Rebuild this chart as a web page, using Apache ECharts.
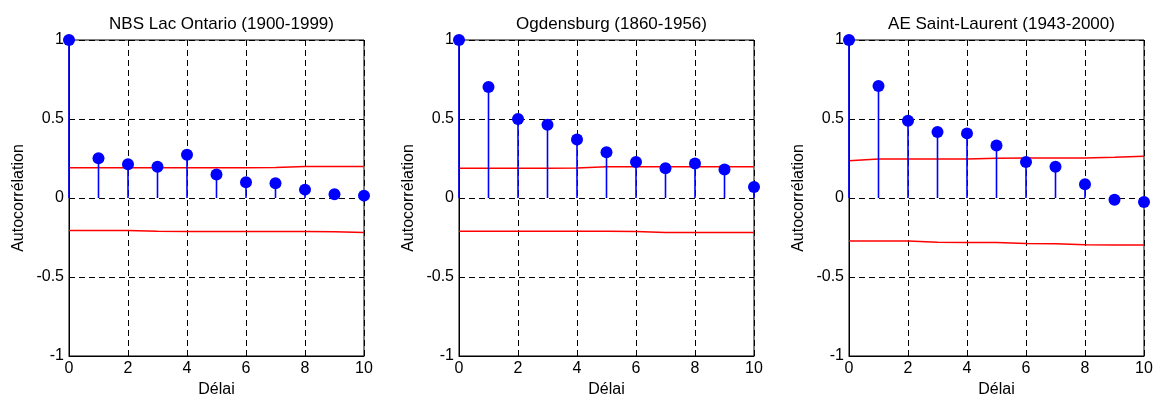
<!DOCTYPE html>
<html>
<head>
<meta charset="utf-8">
<script src="https://cdn.jsdelivr.net/npm/echarts@6/dist/echarts.min.js"></script>
<style>
  html, body { margin: 0; padding: 0; background: #fff; }
  #chart { width: 1156px; height: 396px; }
</style>
</head>
<body>
<div id="chart"></div>
<script>
// Autocorrelation functions (lags 0..10) with their confidence bounds
const lags = [0, 1, 2, 3, 4, 5, 6, 7, 8, 9, 10];

const titles = [
  'NBS Lac Ontario (1900-1999)',
  'Ogdensburg (1860-1956)',
  'AE Saint-Laurent (1943-2000)'
];

const acfOntario    = [1, 0.251, 0.213, 0.198, 0.274, 0.149, 0.100, 0.094, 0.053, 0.023, 0.015];
const acfOgdensburg = [1, 0.702, 0.500, 0.464, 0.370, 0.289, 0.228, 0.189, 0.219, 0.181, 0.070];
const acfStLaurent  = [1, 0.709, 0.489, 0.417, 0.409, 0.332, 0.228, 0.198, 0.087, -0.011, -0.026];

const upperOntario    = [0.191, 0.191, 0.191, 0.191, 0.191, 0.191, 0.191, 0.193, 0.199, 0.199, 0.199];
const lowerOntario    = [-0.206, -0.206, -0.206, -0.211, -0.212, -0.212, -0.212, -0.212, -0.212, -0.214, -0.219];
const upperOgdensburg = [0.189, 0.189, 0.189, 0.189, 0.190, 0.197, 0.198, 0.198, 0.198, 0.198, 0.198];
const lowerOgdensburg = [-0.211, -0.211, -0.211, -0.211, -0.211, -0.211, -0.212, -0.219, -0.219, -0.219, -0.219];
const upperStLaurent  = [0.236, 0.247, 0.247, 0.247, 0.247, 0.252, 0.253, 0.253, 0.253, 0.258, 0.264];
const lowerStLaurent  = [-0.272, -0.272, -0.272, -0.280, -0.281, -0.281, -0.288, -0.289, -0.296, -0.298, -0.298];

const xTicks = [0, 2, 4, 6, 8, 10];
const yTicks = [-1, -0.5, 0, 0.5, 1];
const xName = 'Délai';
const yName = 'Autocorrélation';

const panels = [
  { acf: acfOntario,    upper: upperOntario,    lower: lowerOntario },
  { acf: acfOgdensburg, upper: upperOgdensburg, lower: lowerOgdensburg },
  { acf: acfStLaurent,  upper: upperStLaurent,  lower: lowerStLaurent }
];

const FONT = 'Liberation Sans, Arial, sans-serif';
const gridLefts = [69, 459, 849];
const gridWidth = 295;
const gridTop = 40;
const gridHeight = 316;

const dashed = { color: '#000', width: 1, type: [6, 4] };

const grids = [], xAxes = [], yAxes = [], series = [], titleOpts = [];

panels.forEach((p, i) => {
  grids.push({
    left: gridLefts[i], top: gridTop, width: gridWidth, height: gridHeight,
    outerBoundsMode: 'none', containLabel: false,
    show: true, borderColor: '#000', borderWidth: 1, backgroundColor: 'transparent'
  });
  titleOpts.push({
    text: titles[i],
    left: gridLefts[i] + gridWidth / 2,
    top: 11,
    textAlign: 'center',
    textStyle: { fontFamily: FONT, fontSize: 17, fontWeight: 'normal', color: '#000' }
  });
  xAxes.push({
    gridIndex: i, type: 'value',
    min: xTicks[0], max: xTicks[xTicks.length - 1], interval: 2,
    name: xName, nameLocation: 'middle', nameGap: 25,
    nameTextStyle: { fontFamily: FONT, fontSize: 16, color: '#000' },
    axisLine: { show: true, onZero: false, lineStyle: { color: '#000', width: 1 } },
    axisTick: { show: false },
    axisLabel: { fontFamily: FONT, fontSize: 16, color: '#000', margin: 5 },
    splitLine: { show: true, lineStyle: dashed }
  });
  yAxes.push({
    gridIndex: i, type: 'value',
    min: yTicks[0], max: yTicks[yTicks.length - 1], interval: 0.5,
    name: yName, nameLocation: 'middle', nameGap: 42,
    nameTextStyle: { fontFamily: FONT, fontSize: 16, color: '#000' },
    axisLine: { show: true, lineStyle: { color: '#000', width: 1 } },
    axisTick: { show: false },
    axisLabel: { fontFamily: FONT, fontSize: 16, color: '#000', margin: 5 },
    splitLine: { show: true, lineStyle: dashed }
  });

  const acfPairs = lags.map((l, k) => [l, p.acf[k]]);

  // stems
  series.push({
    type: 'bar', xAxisIndex: i, yAxisIndex: i,
    data: acfPairs, barWidth: 1.6,
    itemStyle: { color: '#0000ff', opacity: 1 },
    silent: true, z: 3
  });
  // confidence bounds
  [p.upper, p.lower].forEach(b => {
    series.push({
      type: 'line', xAxisIndex: i, yAxisIndex: i,
      data: lags.map((l, k) => [l, b[k]]),
      showSymbol: false, symbol: 'none',
      lineStyle: { color: '#ff0000', width: 1.5 },
      silent: true, z: 2
    });
  });
  // stem heads
  series.push({
    type: 'scatter', xAxisIndex: i, yAxisIndex: i,
    data: acfPairs, symbol: 'circle', symbolSize: 12,
    itemStyle: { color: '#0000ff', opacity: 1 },
    clip: false, silent: true, z: 4
  });
});

const chart = echarts.init(document.getElementById('chart'), null, { renderer: 'canvas' });
chart.setOption({
  animation: false,
  backgroundColor: '#fff',
  title: titleOpts,
  grid: grids,
  xAxis: xAxes,
  yAxis: yAxes,
  series: series
});
</script>
</body>
</html>
